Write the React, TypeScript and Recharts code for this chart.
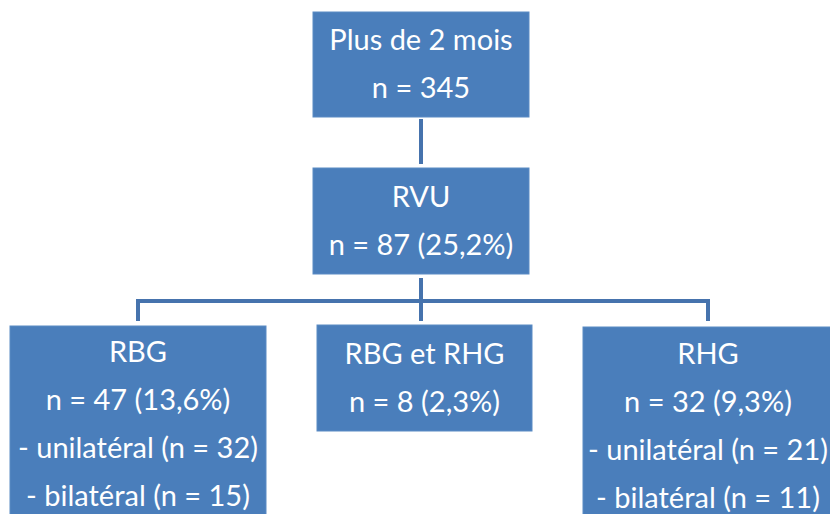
import React from "react";
import {
  ScatterChart,
  Scatter,
  XAxis,
  YAxis,
  ReferenceLine,
} from "recharts";

// flowchart content
const nodeTitles = ["Plus de 2 mois", "RVU", "RBG", "RBG et RHG", "RHG"];
const nodeCounts = [345, 87, 47, 8, 32];
const nodePercents = [null, "25,2", "13,6", "2,3", "9,3"];
const unilateralCounts = [null, null, 32, null, 21];
const bilateralCounts = [null, null, 15, null, 11];

// layout (pixel-like units on hidden axes)
const nodeX = [421, 421, 138, 424.5, 708];
const nodeY = [64.5, 221, 424.5, 378, 426];
const nodeW = [216, 216, 256, 215, 250];
const nodeH = [105, 106, 197, 106, 198];

const W = 830;
const H = 514;
const FILL = "#4a7ebb";
const LINE = "#4673ad";
const FONT = "Lato, 'Open Sans', sans-serif";

const buildLines = (i: number) => {
  const lines = [nodeTitles[i]];
  lines.push(
    nodePercents[i] ? `n = ${nodeCounts[i]} (${nodePercents[i]}%)` : `n = ${nodeCounts[i]}`
  );
  if (unilateralCounts[i] != null) lines.push(`- unilatéral (n = ${unilateralCounts[i]})`);
  if (bilateralCounts[i] != null) lines.push(`- bilatéral (n = ${bilateralCounts[i]})`);
  return lines;
};

const nodes = nodeTitles.map((_, i) => ({
  x: nodeX[i],
  y: nodeY[i],
  w: nodeW[i],
  h: nodeH[i],
  lines: buildLines(i),
}));

const NodeBox = (props: any) => {
  const { cx, cy, payload } = props;
  const { w, h, lines } = payload;
  const step = 48;
  const start = cy - ((lines.length - 1) * step) / 2 - 2;
  return (
    <g>
      <rect x={cx - w / 2} y={cy - h / 2} width={w} height={h} fill={FILL} stroke="#5b8bc4" strokeWidth={1} />
      {lines.map((t: string, k: number) => (
        <text
          key={k}
          x={cx}
          y={start + k * step}
          textAnchor="middle"
          dominantBaseline="central"
          fill="#ffffff"
          fontFamily={FONT}
          fontSize={29}
        >
          {t}
        </text>
      ))}
    </g>
  );
};

export default function App() {
  const ls = { stroke: LINE, strokeWidth: 4, strokeLinecap: "square" as const };
  return (
    <div style={{ position: "fixed", left: 0, top: 0, background: "#fff" }}>
      <ScatterChart width={W} height={H} margin={{ top: 0, right: 0, bottom: 0, left: 0 }}>
        <XAxis type="number" dataKey="x" domain={[0, W]} hide />
        <YAxis type="number" dataKey="y" domain={[0, H]} reversed hide />
        <ReferenceLine segment={[{ x: 421, y: 121 }, { x: 421, y: 162 }]} {...ls} />
        <ReferenceLine segment={[{ x: 421, y: 280 }, { x: 421, y: 319 }]} {...ls} />
        <ReferenceLine segment={[{ x: 138, y: 301 }, { x: 708, y: 301 }]} {...ls} />
        <ReferenceLine segment={[{ x: 138, y: 301 }, { x: 138, y: 319 }]} {...ls} />
        <ReferenceLine segment={[{ x: 708, y: 301 }, { x: 708, y: 319 }]} {...ls} />
        <Scatter data={nodes} shape={NodeBox} isAnimationActive={false} />
      </ScatterChart>
    </div>
  );
}
